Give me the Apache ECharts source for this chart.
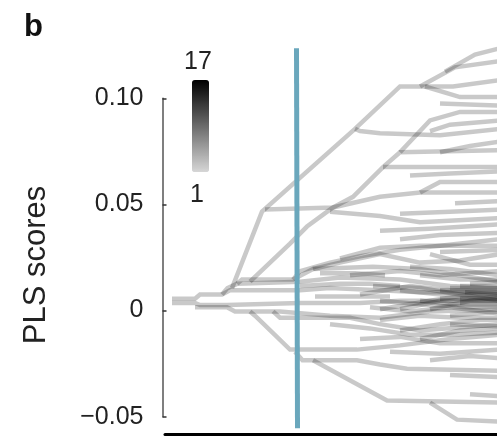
<!DOCTYPE html>
<html>
<head>
<meta charset="utf-8">
<script src="https://cdn.jsdelivr.net/npm/echarts@6/dist/echarts.min.js"></script>
<style>
html,body{margin:0;padding:0;background:#fff;}
#chart{width:497px;height:437px;}
</style>
</head>
<body>
<div id="chart"></div>
<script>
// Trajectory branches: [pseudotime, PLS score] breakpoints
const trunkLines = [
  [[1.4,0.005],[6,0.005],[7,0.007],[11.4,0.007],[13,0.009],[27,0.009],[33,0.010],[43,0.009],[51,0.008],[67,0.008]],
  [[1.4,0.003],[6,0.003],[7,0.002],[12.4,0.002],[27,0.003],[39,0.003],[47,0.004],[57,0.004],[67,0.004]],
  [[6,0.001],[12.4,0.001],[14,-0.001],[23,-0.001],[33,-0.003],[43,-0.004],[53,-0.001],[67,0.000]],
  [[11.4,0.007],[12.5,0.010],[14.4,0.012],[27,0.013],[35,0.015],[47,0.014],[57,0.011],[67,0.010]],
  [[14.4,0.012],[15.4,0.014],[25.6,0.014],[29.6,0.019],[41.6,0.020],[51,0.019],[67,0.013]]
];
const lowerLines = [
  [[17,-0.001],[18,-0.003],[25,-0.019],[38.4,-0.019],[47,-0.017],[57,-0.014],[67,-0.012]],
  [[26,-0.020],[27.5,-0.024],[38.4,-0.024],[43,-0.026],[48.4,-0.028],[67,-0.029]],
  [[29.6,-0.024],[44.4,-0.043],[67,-0.044]],
  [[53,-0.044],[58.4,-0.052],[67,-0.053]],
  [[21.6,-0.001],[23,-0.004],[37,-0.004],[43,-0.007],[51,-0.010],[67,-0.007]],
  [[33,-0.007],[41,-0.009],[49,-0.012],[57,-0.012],[67,-0.011]],
  [[39,-0.014],[47,-0.013],[55,-0.016],[67,-0.016]],
  [[45,-0.020],[55,-0.021],[67,-0.019]],
  [[53,-0.024],[61,-0.022],[67,-0.023]],
  [[57,-0.031],[67,-0.032]],
  [[61,-0.040],[67,-0.041]]
];
const midLines = [
  [[25.6,0.014],[27,0.018],[33,0.022],[39,0.025],[47,0.028],[55,0.030],[67,0.033]],
  [[29.6,0.019],[35,0.022],[43,0.026],[51,0.022],[59,0.023],[67,0.026]],
  [[37,0.016],[47,0.018],[55,0.016],[67,0.018]],
  [[41.6,0.011],[51,0.010],[59,0.007],[67,0.004]],
  [[43,0.004],[53,0.002],[61,0.001],[67,0.001]],
  [[47,0.000],[55,0.004],[67,0.005]],
  [[39,0.007],[49,0.011],[57,0.009],[67,0.008]],
  [[43,-0.005],[51,-0.003],[59,-0.004],[67,-0.004]],
  [[47,-0.010],[55,-0.007],[63,-0.005],[67,-0.005]],
  [[51,-0.014],[59,-0.010],[67,-0.009]],
  [[53,0.026],[61,0.021],[67,0.021]],
  [[47,0.033],[55,0.035],[67,0.036]],
  [[51,0.016],[59,0.014],[67,0.014]],
  [[47,0.009],[55,0.007],[67,0.007]],
  [[51,0.004],[59,0.002],[67,0.002]],
  [[53,0.000],[61,0.004],[67,0.004]],
  [[55,0.009],[67,0.009]],
  [[57,-0.003],[67,-0.001]],
  [[59,0.011],[67,0.011]],
  [[43,0.000],[53,0.004],[61,0.007],[67,0.006]],
  [[27,0.011],[35,0.012],[41,0.012],[47,0.011]],
  [[30,0.006],[38,0.006],[45,0.006]],
  [[31,0.017],[38,0.017],[44,0.016]],
  [[35,0.024],[43,0.029],[51,0.030],[67,0.030]],
  [[41,0.001],[49,-0.001],[57,0.001],[67,-0.002]],
  [[49,0.020],[57,0.019],[67,0.016]],
  [[55,0.027],[67,0.028]],
  [[57,-0.007],[67,-0.008]],
  [[59,0.005],[67,0.006]],
  [[61,0.012],[67,0.013]],
  [[55,0.005],[67,0.005]],
  [[57,0.010],[67,0.010]],
  [[59,0.003],[67,0.003]],
  [[60,0.008],[67,0.007]]
];
const upperLines = [
  [[13.4,0.010],[19.4,0.046],[38,0.085],[47,0.105],[57.6,0.105],[67,0.108]],
  [[38,0.085],[39,0.084],[43,0.083],[55,0.082],[67,0.085]],
  [[51,0.105],[58,0.114],[67,0.117]],
  [[56,0.112],[62,0.120],[67,0.123]],
  [[17,0.013],[25,0.031],[28.4,0.039],[33.6,0.048],[43,0.053],[51,0.055],[67,0.055]],
  [[20,0.047],[33.6,0.048],[37.6,0.053],[43.6,0.067],[47,0.074],[67,0.075]],
  [[47,0.074],[53,0.089],[59,0.093],[67,0.093]],
  [[52,0.105],[59,0.100],[67,0.100]],
  [[43.6,0.067],[51,0.067],[67,0.067]],
  [[51,0.055],[55,0.060],[67,0.060]],
  [[55,0.074],[61,0.077],[67,0.079]],
  [[33,0.046],[43,0.044],[51,0.041],[67,0.043]],
  [[53,0.084],[57,0.087],[67,0.089]],
  [[43,0.037],[53,0.038],[67,0.040]],
  [[47,0.045],[57,0.046],[67,0.047]],
  [[49,0.063],[57,0.064],[67,0.065]],
  [[55,0.097],[67,0.096]],
  [[58,0.050],[67,0.051]]
];
const countRange = [1, 17];
const yTicks = [-0.05, 0, 0.05, 0.10];
const tealLine = [[26.3, 0.123], [26.5, -0.056]];

const allLines = trunkLines.concat(lowerLines, midLines, upperLines);
const FONT = 'Liberation Sans, Arial, Helvetica, sans-serif';

const chart = echarts.init(document.getElementById('chart'), null, {renderer: 'canvas'});
chart.setOption({
  animation: false,
  backgroundColor: '#ffffff',
  title: {
    text: 'b', left: 19, top: 7,
    textStyle: {fontFamily: FONT, fontWeight: 'bold', fontSize: 31, color: '#111'}
  },
  grid: [
    {left: 162.5, right: 0, top: 98.3, bottom: 20.3},
    {left: 165, right: 0, top: 39.8, bottom: 2.5}
  ],
  xAxis: [
    {gridIndex: 0, type: 'value', show: false, min: 0, max: 1},
    {gridIndex: 1, type: 'value', min: 0, max: 66.4,
      axisLine: {show: true, onZero: false, lineStyle: {color: '#000', width: 3}},
      axisTick: {show: false}, axisLabel: {show: false}, splitLine: {show: false}}
  ],
  yAxis: [
    {gridIndex: 0, type: 'value', min: yTicks[0], max: yTicks[yTicks.length - 1], interval: 0.05,
      axisLine: {show: true, lineStyle: {color: '#555', width: 1.5}},
      axisTick: {show: true, inside: true, length: 4, lineStyle: {color: '#333', width: 1.5}},
      splitLine: {show: false},
      axisLabel: {
        margin: 19, fontFamily: FONT, fontSize: 25, color: '#222',
        formatter: function (v) {
          if (Math.abs(v) < 1e-9) return '0';
          const s = Math.abs(v).toFixed(2);
          return (v < 0 ? '\u2212' : '') + s;
        }
      }
    },
    {gridIndex: 1, type: 'value', min: -0.059, max: 0.127, show: false}
  ],
  visualMap: {
    type: 'continuous', min: countRange[0], max: countRange[1],
    seriesIndex: 2, calculable: false, orient: 'vertical',
    left: 177, top: 65, itemWidth: 17, itemHeight: 92,
    text: null, showLabel: false,
    inRange: {color: ['#d6d6d6', '#000000']}
  },
  graphic: [
    {
      type: 'text', x: 36, y: 265, rotation: Math.PI / 2,
      style: {text: 'PLS scores', fontFamily: FONT, fontSize: 31, fill: '#222', align: 'center', verticalAlign: 'middle'}
    },
    {
      type: 'text', x: 198, y: 62,
      style: {text: String(countRange[1]), fontFamily: FONT, fontSize: 25, fill: '#222', align: 'center', verticalAlign: 'middle'}
    },
    {
      type: 'text', x: 197, y: 195,
      style: {text: String(countRange[0]), fontFamily: FONT, fontSize: 25, fill: '#222', align: 'center', verticalAlign: 'middle'}
    }
  ],
  series: [
    {
      type: 'line', xAxisIndex: 1, yAxisIndex: 1, data: [], silent: true,
      markLine: {
        silent: true, symbol: 'none', label: {show: false},
        lineStyle: {color: '#6aa7bc', width: 5, type: 'solid'},
        data: [[{coord: tealLine[0]}, {coord: tealLine[1]}]]
      }
    },
    {
      type: 'lines', coordinateSystem: 'cartesian2d', xAxisIndex: 1, yAxisIndex: 1,
      polyline: true, silent: true, clip: true,
      lineStyle: {color: 'rgba(0,0,0,0.21)', width: 4.5, cap: 'butt', join: 'miter', opacity: 1},
      data: allLines.map(function (c) { return {coords: c}; })
    },
    {type: 'scatter', xAxisIndex: 1, yAxisIndex: 1, data: [], silent: true}
  ]
});
</script>
</body>
</html>
